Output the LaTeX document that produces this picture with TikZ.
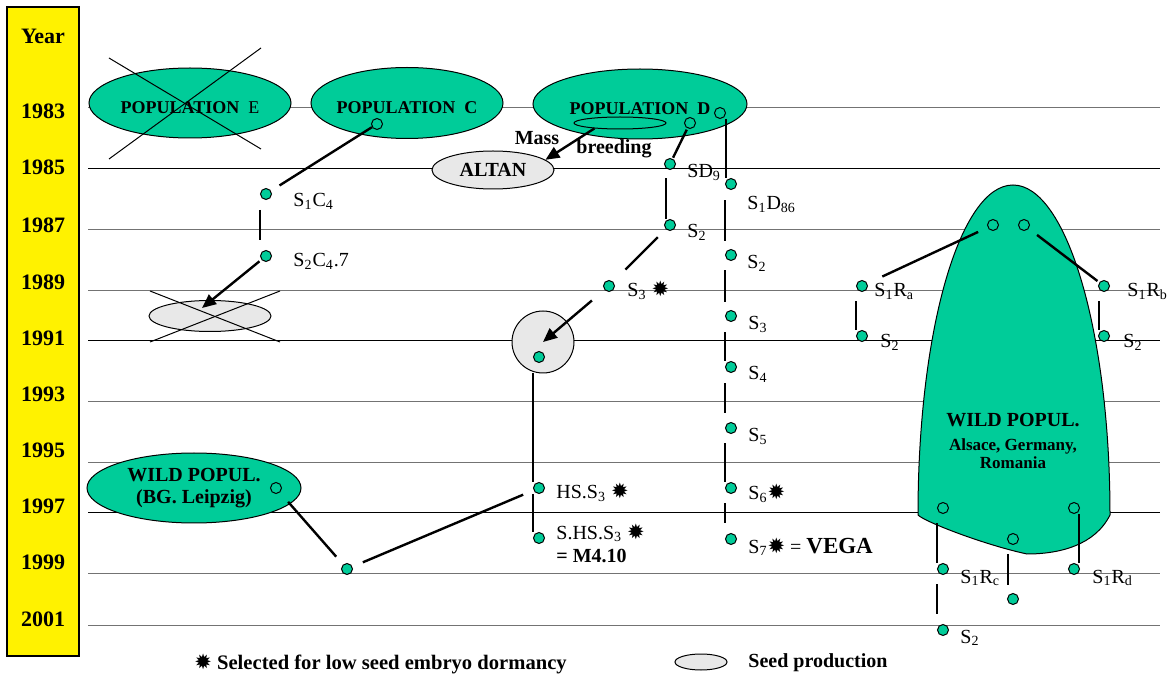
\documentclass[tikz,border=0pt]{standalone}
\usepackage{fontspec}
\setmainfont{Liberation Serif}
\newfontfamily\starfont{DejaVu Sans}
\usetikzlibrary{arrows.meta,shapes.geometric}
\definecolor{popgreen}{RGB}{0,204,153}
\definecolor{seedgray}{RGB}{232,232,232}
\newcommand{\sel}{{\starfont\fontsize{10.5}{10}\selectfont ✹}}
\newcommand{\sbs}[1]{\textsubscript{#1}}
\newcommand{\inbox}[1]{\makebox[0pt]{#1}}
\newcommand{\popname}[1]{\makebox[0pt]{\smash{\raisebox{-5.2pt}{#1}}}}

\begin{document}
\begin{tikzpicture}[
  x=0.5pt, y=-0.5pt,
  dot/.style={circle, fill=popgreen, draw=black, line width=0.5pt,
    minimum size=5.5pt, inner sep=0pt},
  hole/.style={circle, draw=black, line width=0.5pt,
    minimum size=5.5pt, inner sep=0pt},
  pop/.style={ellipse, fill=popgreen, draw=black, line width=0.5pt,
    inner sep=0pt, font=\fontsize{9}{11}\selectfont\bfseries},
  seed/.style={ellipse, fill=seedgray, draw=black, line width=0.5pt, inner sep=0pt},
  yearlbl/.style={font=\fontsize{11}{13}\selectfont\bfseries},
  lbl/.style={anchor=base west, inner sep=0pt},
  link/.style={line width=1.2pt, shorten <=5pt, shorten >=5pt},
  arrow/.style={line width=1.2pt, -{Triangle[length=7pt,width=6pt]}},
  rule/.style={line width=0.5pt}
]
\useasboundingbox (0,0) rectangle (1169,679);

% Year grid and year column.
\foreach \y/\c in {108/black!55, 169/black, 230/black!55, 291/black!55,
  341/black, 402/black!55, 463/black!55, 513/black, 574/black!55, 625/black!55}
  \draw[rule, draw=\c] (88,\y) -- (1160,\y);
\draw[fill=yellow, line width=0.6pt] (7,7) rectangle (79,656);
\node[yearlbl] (year) at (43,36) {Year};
\foreach \yr/\y in {1983/111, 1985/167, 1987/225, 1989/282, 1991/338,
  1993/394, 1995/450, 1997/506, 1999/562, 2001/619}
  \node[yearlbl] (y\yr) at (43,\y) {\yr};

% Source populations.
\node[pop, minimum width=101pt, minimum height=35pt] (popE) at (190,103)
  {\popname{POPULATION\ \ \textmd{E}}};
\draw[rule] (109,58) -- (261,149);
\draw[rule] (109,159) -- (261,48);
\node[pop, minimum width=96pt, minimum height=35.5pt] (popC) at (407,103)
  {\popname{POPULATION\ \ C}};
\node[pop, minimum width=107pt, minimum height=35pt] (popD) at (640,104)
  {\popname{POPULATION\ \ D}};
\node[ellipse, draw=black, line width=0.5pt, minimum width=46pt,
  minimum height=6pt, inner sep=0pt] (mass) at (620,123) {};
\node[hole] (hC) at (377,124) {};
\node[hole] (hD1) at (690,123) {};
\node[hole] (hD2) at (720,113) {};

% Mass breeding -> ALTAN.
\node[seed, minimum width=61pt, minimum height=19pt, font=\bfseries] (altan)
  at (493,170) {\inbox{ALTAN}};
\node[font=\bfseries] (massT) at (537,138) {Mass};
\node[font=\bfseries] (breedT) at (614,149) {breeding};
\draw[arrow] (mass.192) -- (altan.11);

% Line from population C.
\node[dot] (c1) at (266,194) {};
\node[dot] (c2) at (266,256) {};
\node[lbl] (lc1) at (293,207) {S\sbs{1}C\sbs{4}};
\node[lbl] (lc2) at (293,267) {S\sbs{2}C\sbs{4}.7};
\node[seed, minimum width=61pt, minimum height=15.5pt] (ce) at (210,316) {};
\draw[rule] (150,291) -- (280,342);
\draw[rule] (150,342) -- (280,291);
\coordinate (tipC) at (202,308);
\draw[link, shorten <=0pt] (hC) -- (c1);
\draw[link] ([xshift=-3pt]c1.south) -- ([xshift=-3pt]c2.north);
\draw[arrow, shorten <=1.2pt] (c2) -- (tipC);

% SD9 line.
\node[dot] (d9) at (670,164) {};
\node[dot] (d9b) at (670,225) {};
\node[dot] (s3) at (609,286) {};
\node[lbl] (ld9) at (687,178) {SD\sbs{9}};
\node[lbl] (ld9b) at (687,238) {S\sbs{2}};
\node[lbl] (ls3) at (627,297) {S\sbs{3} \sel};
\draw[link, shorten <=0.7pt, shorten >=0.5pt] (hD1) -- (d9);
\draw[link, shorten <=4.2pt, shorten >=0pt] ([xshift=-2pt]d9.south) -- ([xshift=-2pt]d9b.north);
\draw[link, shorten <=5.6pt, shorten >=8.6pt] (d9b) -- (s3);

% Seed production and half-sib line M4.10.
\node[seed, circle, minimum size=31pt] (sp) at (543,342) {};
\node[dot] (spd) at (539,357) {};
\draw[arrow, shorten <=8.2pt] (s3) -- (sp.center);
\node[dot] (h1) at (539,488) {};
\node[dot] (h2) at (539,538) {};
\node[lbl] (lh1) at (556,499) {HS.S\sbs{3} \sel};
\node[lbl] (lh2) at (556,539) {S.HS.S\sbs{3} \sel};
\node[lbl, font=\bfseries] (lm4) at (556,563) {= M4.10};
\draw[link, shorten >=0pt] ([xshift=-3pt]spd.south) -- ([xshift=-3pt]h1.north);
\draw[link, shorten <=0pt, shorten >=0pt] ([xshift=-3pt]h1.south) -- ([xshift=-3pt]h2.north);

% Wild population BG Leipzig.
\node[pop, font=\bfseries, minimum width=107pt, minimum height=35pt] (wildBG)
  at (194,488)
  {\inbox{\begin{tabular}{@{}c@{}}WILD POPUL.\\[-1pt](BG. Leipzig)\end{tabular}}};
\node[hole] (hW) at (276,488) {};
\node[dot] (w1) at (347,569) {};
\draw[link, shorten <=6.2pt, shorten >=5.2pt] (hW) -- (w1);
\draw[link, shorten <=5.6pt, shorten >=5.6pt] (w1) -- (h1);

% Selfing line VEGA.
\foreach \n/\y in {1/184, 2/255, 3/316, 4/367, 5/428, 6/488, 7/539}
  \node[dot] (e\n) at (731,\y) {};
\node[lbl] (le1) at (747,210) {S\sbs{1}D\sbs{86}};
\node[lbl] (le2) at (747,269) {S\sbs{2}};
\node[lbl] (le3) at (748,330) {S\sbs{3}};
\node[lbl] (le4) at (748,380) {S\sbs{4}};
\node[lbl] (le5) at (748,442) {S\sbs{5}};
\node[lbl] (le6) at (748,500) {S\sbs{6}\sel};
\node[lbl] (le7) at (748,553) {S\sbs{7}\sel{} =
  \textbf{\fontsize{11.5}{13}\selectfont VEGA}};
\draw[line width=1.2pt] ([xshift=3pt]hD2.south) -- ([xshift=-2.5pt]e1.north);
\draw[link, shorten <=5.2pt, shorten >=4.2pt] ([xshift=-3pt]e1.south) -- ([xshift=-3pt]e2.north);
\draw[link, shorten <=4.7pt, shorten >=4.2pt] ([xshift=-3pt]e2.south) -- ([xshift=-3pt]e3.north);
\draw[link, shorten <=5.2pt, shorten >=0pt] ([xshift=-3pt]e3.south) -- ([xshift=-3pt]e4.north);
\draw[link, shorten <=5.2pt, shorten >=4.7pt] ([xshift=-3pt]e4.south) -- ([xshift=-3pt]e5.north);
\draw[link, shorten <=4.7pt, shorten >=0pt] ([xshift=-3pt]e5.south) -- ([xshift=-3pt]e6.north);
\draw[link, shorten <=4.7pt, shorten >=5.2pt] ([xshift=-3pt]e6.south) -- ([xshift=-3pt]e7.north);

% Wild populations Alsace, Germany, Romania.
\draw[fill=popgreen, line width=0.5pt] (918,515)
  .. controls (918,330) and (960,185) .. (1013,185)
  .. controls (1066,185) and (1110,330) .. (1110,515)
  .. controls (1095,545) and (1060,554) .. (1027,554)
  .. controls (985,545) and (925,522) .. (918,515) -- cycle;
\node[font=\bfseries] (wildT) at (1013,420) {WILD POPUL.};
\node[font=\fontsize{8.5}{9}\selectfont\bfseries, align=center] (wildS)
  at (1013,454) {Alsace, Germany,\\Romania};
\node[hole] (rA) at (993,225) {};
\node[hole] (rB) at (1024,225) {};
\node[hole] (rC) at (943,508) {};
\node[hole] (rD) at (1074,508) {};
\node[hole] (rE) at (1013,539) {};
\node[dot] (a1) at (862,286) {};
\node[dot] (a2) at (862,336) {};
\node[dot] (b1) at (1104,286) {};
\node[dot] (b2) at (1104,336) {};
\node[dot] (cc1) at (943,569) {};
\node[dot] (cc2) at (943,630) {};
\node[dot] (dd1) at (1074,569) {};
\node[dot] (ee1) at (1013,599) {};
\node[lbl] (la1) at (874,297) {S\sbs{1}R\sbs{a}};
\node[lbl] (la2) at (880,348) {S\sbs{2}};
\node[lbl] (lb1) at (1127,297) {S\sbs{1}R\sbs{b}};
\node[lbl] (lb2) at (1123,348) {S\sbs{2}};
\node[lbl] (lcc1) at (960,583) {S\sbs{1}R\sbs{c}};
\node[lbl] (lcc2) at (960,643) {S\sbs{2}};
\node[lbl] (ldd1) at (1092,583) {S\sbs{1}R\sbs{d}};
\draw[link, shorten <=5.2pt, shorten >=8.2pt] (rA) -- (a1);
\draw[link, shorten <=5.2pt, shorten >=1.1pt] (rB) -- (b1);
\draw[link, shorten <=4.7pt, shorten >=0pt] ([xshift=-3pt]a1.south) -- ([xshift=-3pt]a2.north);
\draw[link, shorten <=4.7pt, shorten >=0pt] ([xshift=-2.5pt]b1.south) -- ([xshift=-2.5pt]b2.north);
\draw[link, shorten <=4.7pt, shorten >=0.2pt] ([xshift=-3pt]rC.south) -- ([xshift=-3pt]cc1.north);
\draw[link, shorten <=4.7pt, shorten >=5.2pt] ([xshift=-3pt]cc1.south) -- ([xshift=-3pt]cc2.north);
\draw[link, shorten <=0pt, shorten >=0pt] ([xshift=2.5pt]rD.south) -- ([xshift=2.5pt]dd1.north);
\draw[link, shorten <=4.7pt, shorten >=4.2pt] ([xshift=-2.5pt]rE.south) -- ([xshift=-2.5pt]ee1.north);

% Legend.
\node[font=\fontsize{10.3}{12}\selectfont\bfseries, anchor=west, inner sep=0pt]
  (legSel) at (194,664) {\sel\ Selected for low seed embryo dormancy};
\node[seed, minimum width=26pt, minimum height=8pt] (legSeed) at (701,662) {};
\node[font=\bfseries, anchor=west, inner sep=0pt] (legSeedT) at (748,663)
  {Seed production};
\end{tikzpicture}
\end{document}
